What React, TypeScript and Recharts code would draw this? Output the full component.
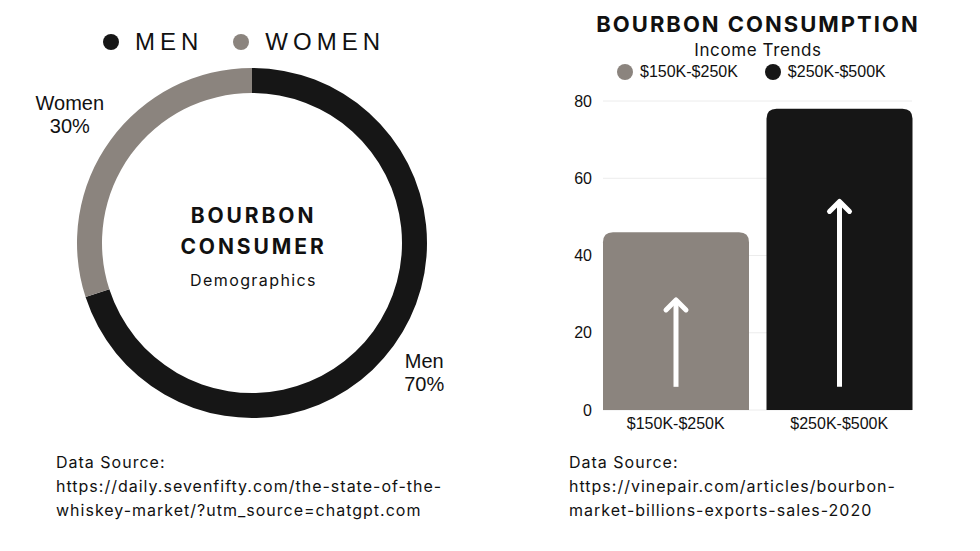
import React from 'react';
import { PieChart, Pie, Cell, BarChart, Bar, XAxis, YAxis, CartesianGrid } from 'recharts';

const genderNames = ['Men', 'Women'];
const genderValues = [70, 30];
const genderColors = ['#161616', '#8b847e'];

const incomeBrackets = ['$150K-$250K', '$250K-$500K'];
const incomeValues = [46, 78];
const incomeColors = ['#8b847e', '#161616'];
const arrowTips = [28.5, 54];
const arrowBase = 6;
const yTicks = [0, 20, 40, 60, 80];

const pieData = genderNames.map((name, i) => ({ name, value: genderValues[i], color: genderColors[i] }));
const barData = incomeBrackets.map((name, i) => ({ name, value: incomeValues[i], tip: arrowTips[i], color: incomeColors[i] }));

const SANS = '"Liberation Sans", Arial, sans-serif';
const TITLE = 'Inter, "Open Sans", sans-serif';

function PieLegend() {
  return (
    <div style={{ display: 'flex', justifyContent: 'center', alignItems: 'center', fontFamily: SANS, fontSize: 24, letterSpacing: 5, color: '#111', lineHeight: '28px' }}>
      {pieData.map((d, i) => (
        <div key={d.name} style={{ display: 'flex', alignItems: 'center', marginLeft: i ? 30 : 0 }}>
          <span style={{ width: 16, height: 16, borderRadius: 8, background: d.color, display: 'inline-block', marginRight: 16 }} />
          <span>{d.name.toUpperCase()}</span>
        </div>
      ))}
    </div>
  );
}

function BarLegend() {
  return (
    <div style={{ display: 'flex', alignItems: 'center', fontFamily: SANS, fontSize: 16, color: '#111', lineHeight: '20px' }}>
      {barData.map((d, i) => (
        <div key={d.name} style={{ display: 'flex', alignItems: 'center', marginLeft: i ? 27 : 0 }}>
          <span style={{ width: 16, height: 16, borderRadius: 8, background: d.color, display: 'inline-block', marginRight: 7 }} />
          <span>{d.name}</span>
        </div>
      ))}
    </div>
  );
}

function renderPieLabel(props: any) {
  const { cx, cy, midAngle, outerRadius, name, percent } = props;
  const RAD = Math.PI / 180;
  const r = outerRadius + 44;
  const x = cx + r * Math.cos(-midAngle * RAD) - 5;
  const y = cy + r * Math.sin(-midAngle * RAD);
  return (
    <text x={x} y={y} textAnchor="middle" fontFamily={SANS} fontSize={20} fill="#111">
      <tspan x={x} dy={-4}>{name}</tspan>
      <tspan x={x} dy={23}>{Math.round(percent * 100)}%</tspan>
    </text>
  );
}

function ArrowBar(props: any) {
  const { x, y, width, height, fill, payload } = props;
  const r = 10;
  const bottom = y + height;
  const path = `M${x},${bottom} L${x},${y + r} Q${x},${y} ${x + r},${y} L${x + width - r},${y} Q${x + width},${y} ${x + width},${y + r} L${x + width},${bottom} Z`;
  const ax = x + width / 2;
  const baseY = bottom - height * (arrowBase / payload.value);
  const tipY = bottom - height * (payload.tip / payload.value);
  return (
    <g>
      <path d={path} fill={fill} />
      <line x1={ax} y1={baseY} x2={ax} y2={tipY + 1} stroke="#fff" strokeWidth={5} />
      <polyline points={`${ax - 10},${tipY + 10} ${ax},${tipY} ${ax + 10},${tipY + 10}`} fill="none" stroke="#fff" strokeWidth={5} strokeLinecap="round" strokeLinejoin="round" />
    </g>
  );
}

export default function App() {
  return (
    <div style={{ position: 'absolute', left: 0, top: 0, width: 980, height: 551, background: '#fff', overflow: 'hidden' }}>
      <div style={{ position: 'absolute', left: 0, top: 0 }}>
        <PieChart width={490} height={445} margin={{ top: 0, right: 0, bottom: 0, left: 0 }}>
          <Pie
            data={pieData}
            dataKey="value"
            nameKey="name"
            cx={252}
            cy={243}
            innerRadius={150}
            outerRadius={175}
            startAngle={90}
            endAngle={-270}
            stroke="none"
            label={renderPieLabel}
            labelLine={false}
            isAnimationActive={false}
          >
            {pieData.map((d) => (
              <Cell key={d.name} fill={d.color} />
            ))}
          </Pie>
        </PieChart>
      </div>
      <div style={{ position: 'absolute', left: -6, top: 28, width: 500 }}>
        <PieLegend />
      </div>
      <div style={{ position: 'absolute', left: 152, top: 200, width: 203, textAlign: 'center', fontFamily: TITLE, color: '#111' }}>
        <div style={{ fontWeight: 700, fontSize: 21, letterSpacing: 2.9, lineHeight: '31px' }}>BOURBON</div>
        <div style={{ fontWeight: 700, fontSize: 21, letterSpacing: 2.9, lineHeight: '31px' }}>CONSUMER</div>
        <div style={{ fontSize: 16, letterSpacing: 1.4, lineHeight: '20px', marginTop: 8 }}>Demographics</div>
      </div>

      <div style={{ position: 'absolute', left: 550, top: 10, width: 416, textAlign: 'center', fontFamily: TITLE, fontWeight: 700, fontSize: 22, letterSpacing: 2, color: '#111', lineHeight: '28px' }}>
        BOURBON CONSUMPTION
      </div>
      <div style={{ position: 'absolute', left: 550, top: 39, width: 416, textAlign: 'center', fontFamily: TITLE, fontSize: 17, letterSpacing: 0.6, color: '#111', lineHeight: '22px' }}>
        Income Trends
      </div>
      <div style={{ position: 'absolute', left: 617, top: 62 }}>
        <BarLegend />
      </div>

      <div style={{ position: 'absolute', left: 550, top: 0 }}>
        <BarChart width={380} height={460} data={barData} margin={{ top: 101, right: 18, bottom: 20, left: 0 }} barCategoryGap={9}>
          <CartesianGrid horizontal vertical={false} stroke="#ececec" />
          <XAxis dataKey="name" axisLine={false} tickLine={false} padding={{ left: -9, right: -9 }} height={30} tick={{ fill: '#111', fontSize: 16, fontFamily: SANS }} />
          <YAxis domain={[0, 80]} ticks={yTicks} width={53} axisLine={false} tickLine={false} tickSize={6} tickMargin={5} tick={{ fill: '#111', fontSize: 16, fontFamily: SANS }} />
          <Bar dataKey="value" shape={<ArrowBar />} isAnimationActive={false}>
            {barData.map((d) => (
              <Cell key={d.name} fill={d.color} />
            ))}
          </Bar>
        </BarChart>
      </div>

      <div style={{ position: 'absolute', left: 56, top: 450, fontFamily: TITLE, fontSize: 16, lineHeight: '24px', letterSpacing: 1, color: '#111' }}>
        <div>Data Source:</div>
        <div>https://daily.sevenfifty.com/the-state-of-the-</div>
        <div>whiskey-market/?utm_source=chatgpt.com</div>
      </div>
      <div style={{ position: 'absolute', left: 569, top: 450, fontFamily: TITLE, fontSize: 16, lineHeight: '24px', letterSpacing: 1, color: '#111' }}>
        <div>Data Source:</div>
        <div>https://vinepair.com/articles/bourbon-</div>
        <div>market-billions-exports-sales-2020</div>
      </div>
    </div>
  );
}
